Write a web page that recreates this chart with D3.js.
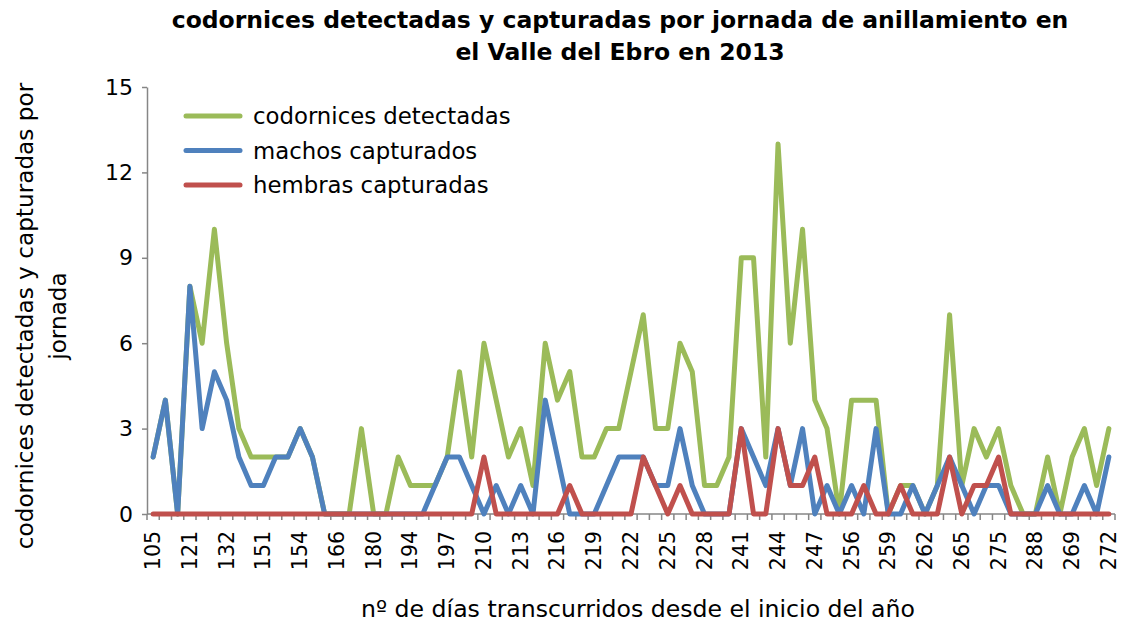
<!DOCTYPE html>
<html>
<head>
<meta charset="utf-8">
<script src="https://cdn.jsdelivr.net/npm/d3@7"></script>
<style>
  html, body { margin: 0; padding: 0; background: #fff; }
  svg { display: block; }
  text { font-family: "DejaVu Sans", Verdana, sans-serif; fill: #000; }
</style>
</head>
<body>
<svg id="chart" width="1129" height="626"></svg>
<script>
// Day-of-year labels shown under the axis (every third ringing session)
const dayLabels = [105, 121, 132, 151, 154, 166, 180, 194, 197, 210, 213, 216, 219, 222,
                   225, 228, 241, 244, 247, 256, 259, 262, 265, 275, 288, 269, 272];
const labelStep = 3;

// Quail counts per ringing session, in session order
const detectadas = [2, 4, 0, 8, 6, 10, 6, 3, 2, 2, 2, 2, 3, 2, 0, 0, 0, 3, 0, 0,
                    2, 1, 1, 1, 2, 5, 2, 6, 4, 2, 3, 1, 6, 4, 5, 2, 2, 3, 3, 5,
                    7, 3, 3, 6, 5, 1, 1, 2, 9, 9, 2, 13, 6, 10, 4, 3, 0, 4, 4, 4,
                    0, 1, 1, 0, 1, 7, 1, 3, 2, 3, 1, 0, 0, 2, 0, 2, 3, 1, 3];
const machos     = [2, 4, 0, 8, 3, 5, 4, 2, 1, 1, 2, 2, 3, 2, 0, 0, 0, 0, 0, 0,
                    0, 0, 0, 1, 2, 2, 1, 0, 1, 0, 1, 0, 4, 2, 0, 0, 0, 1, 2, 2,
                    2, 1, 1, 3, 1, 0, 0, 0, 3, 2, 1, 3, 1, 3, 0, 1, 0, 1, 0, 3,
                    0, 0, 1, 0, 1, 2, 1, 0, 1, 1, 0, 0, 0, 1, 0, 0, 1, 0, 2];
const hembras    = [0, 0, 0, 0, 0, 0, 0, 0, 0, 0, 0, 0, 0, 0, 0, 0, 0, 0, 0, 0,
                    0, 0, 0, 0, 0, 0, 0, 2, 0, 0, 0, 0, 0, 0, 1, 0, 0, 0, 0, 0,
                    2, 1, 0, 1, 0, 0, 0, 0, 3, 0, 0, 3, 1, 1, 2, 0, 0, 0, 1, 0,
                    0, 1, 0, 0, 0, 2, 0, 1, 1, 2, 0, 0, 0, 0, 0, 0, 0, 0, 0];

const seriesNames  = ["codornices detectadas", "machos capturados", "hembras capturadas"];
const seriesColors = ["#9BBB59", "#4F81BD", "#C0504D"];
const yTicks = [0, 3, 6, 9, 12, 15];

(function drawChart() {
  const series = [detectadas, machos, hembras];
  const n = detectadas.length;

  const svg = d3.select("#chart");
  const plotLeft = 147, plotRight = 1115, plotTop = 87, plotBottom = 514;
  const axisColor = "#868686";

  const x = d3.scaleBand().domain(d3.range(n)).range([plotLeft, plotRight]);
  const y = d3.scaleLinear().domain([0, 15]).range([plotBottom, plotTop]);
  const cx = i => x(i) + x.bandwidth() / 2;

  // Title
  svg.append("text")
    .attr("x", 620).attr("y", 28)
    .attr("text-anchor", "middle")
    .style("font-weight", "bold").style("font-size", "23.5px")
    .selectAll("tspan")
    .data(["codornices detectadas y capturadas por jornada de anillamiento en",
           "el Valle del Ebro en 2013"])
    .join("tspan")
    .attr("x", 620)
    .attr("dy", (d, i) => i === 0 ? 0 : 32)
    .text(d => d);

  // Y axis
  const yAxis = d3.axisLeft(y).tickValues(yTicks).tickSize(5).tickPadding(9).tickSizeOuter(0);
  const gy = svg.append("g").attr("transform", `translate(${plotLeft},0)`).call(yAxis);
  gy.select(".domain").attr("stroke", axisColor).attr("stroke-width", 1.5);
  gy.selectAll(".tick line").attr("stroke", axisColor).attr("stroke-width", 1.5);
  gy.selectAll(".tick text").style("font-size", "22px").style("font-family", "DejaVu Sans");

  // X axis: baseline with a tick mark at every band boundary
  const gx = svg.append("g").attr("class", "x-axis");
  gx.append("line")
    .attr("x1", plotLeft).attr("x2", plotRight)
    .attr("y1", plotBottom).attr("y2", plotBottom)
    .attr("stroke", axisColor).attr("stroke-width", 1.5);
  gx.selectAll("line.tick")
    .data(d3.range(n + 1))
    .join("line")
    .attr("class", "tick")
    .attr("x1", i => i < n ? x(i) : plotRight)
    .attr("x2", i => i < n ? x(i) : plotRight)
    .attr("y1", plotBottom).attr("y2", plotBottom + 6)
    .attr("stroke", axisColor).attr("stroke-width", 1.5);

  // Category labels, rotated, every third session
  gx.selectAll("text.lbl")
    .data(dayLabels)
    .join("text")
    .attr("class", "lbl")
    .attr("transform", (d, k) => `translate(${cx(k * labelStep) + 7},531) rotate(-90)`)
    .attr("text-anchor", "end")
    .style("font-size", "20.5px")
    .text(d => d);

  // Axis titles
  svg.append("text")
    .attr("transform", "translate(638,617)")
    .attr("text-anchor", "middle")
    .style("font-size", "23.6px")
    .text("nº de días transcurridos desde el inicio del año");

  const yTitle = svg.append("text")
    .attr("transform", "translate(33,316) rotate(-90)")
    .attr("text-anchor", "middle")
    .style("font-size", "23.2px");
  yTitle.append("tspan").attr("x", 0).attr("dy", 0).text("codornices detectadas y capturadas por");
  yTitle.append("tspan").attr("x", 0).attr("dy", 33).text("jornada");

  // Series lines
  const line = d3.line().x((d, i) => cx(i)).y(d => y(d));
  svg.append("g").selectAll("path")
    .data(series)
    .join("path")
    .attr("d", d => line(d))
    .attr("fill", "none")
    .attr("stroke", (d, i) => seriesColors[i])
    .attr("stroke-width", 5)
    .attr("stroke-linejoin", "round")
    .attr("stroke-linecap", "round");

  // Legend
  const legend = svg.append("g").attr("transform", "translate(186,116)");
  const item = legend.selectAll("g")
    .data(seriesNames)
    .join("g")
    .attr("transform", (d, i) => `translate(0,${i * 34.5})`);
  item.append("line")
    .attr("x1", 0).attr("x2", 54)
    .attr("stroke", (d, i) => seriesColors[i])
    .attr("stroke-width", 5)
    .attr("stroke-linecap", "round");
  item.append("text")
    .attr("x", 67).attr("y", 8)
    .style("font-size", "22.8px")
    .text(d => d);
})();
</script>
</body>
</html>
